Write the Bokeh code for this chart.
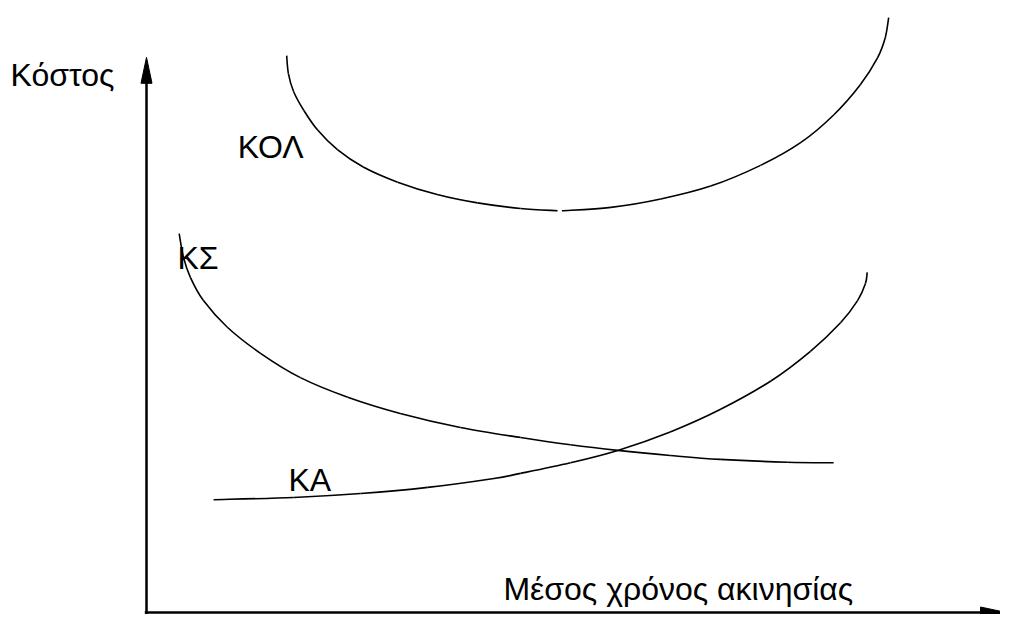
from bokeh.plotting import figure
from bokeh.models import Range1d, ColumnDataSource
from bokeh.core.properties import value
from bokeh.embed import file_html
from bokeh.resources import INLINE

# ---- data (x: average downtime units, y: cost units) ----
kol_left_x = [1.63, 1.65, 1.71, 1.83, 1.99, 2.22, 2.52, 2.92, 3.38, 3.85, 4.35, 4.78]
kol_left_y = [10.23, 9.91, 9.59, 9.25, 8.90, 8.55, 8.24, 7.97, 7.75, 7.60, 7.50, 7.46]
kol_right_x = [4.83, 5.40, 5.98, 6.56, 7.14, 7.61, 7.99, 8.30, 8.50, 8.59, 8.63]
kol_right_y = [7.46, 7.52, 7.67, 7.90, 8.27, 8.68, 9.17, 9.71, 10.19, 10.55, 10.91]

ks_x = [0.38, 0.43, 0.51, 0.66, 0.94, 1.33, 1.79, 2.34, 2.95, 3.65, 4.35, 4.93, 5.48, 6.09, 6.67, 7.45, 7.99]
ks_y = [7.05, 6.63, 6.27, 5.86, 5.38, 4.91, 4.48, 4.13, 3.84, 3.59, 3.41, 3.28, 3.18, 3.09, 3.02, 2.97, 2.96]

ka_x = [0.78, 1.71, 2.49, 3.27, 4.04, 4.35, 4.93, 5.48, 6.09, 6.67, 7.26, 7.72, 8.07, 8.27, 8.36, 8.38]
ka_y = [2.30, 2.34, 2.41, 2.52, 2.68, 2.77, 2.96, 3.18, 3.51, 3.91, 4.42, 4.95, 5.46, 5.86, 6.16, 6.36]

labels = ["Κόστος", "ΚΟΛ", "ΚΣ", "ΚΑ", "Μέσος χρόνος ακινησίας"]
label_x = [-1.58, 1.06, 0.36, 1.65, 4.15]
label_y = [9.89, 8.59, 6.61, 2.66, 0.71]

# ---- layout / scale ----
PX_X = 86.0   # pixels per x unit
PX_Y = 56.0   # pixels per y unit
W, H = 1000, 614
X0 = -146 / PX_X
Y1 = 628 / PX_Y
x_range = Range1d(X0, X0 + W / PX_X)
y_range = Range1d(Y1 - H / PX_Y, Y1)
Y0 = Y1 - H / PX_Y

p = figure(width=W, height=H, x_range=x_range, y_range=y_range,
           output_backend="svg", toolbar_location=None,
           x_axis_type=None, y_axis_type=None,
           min_border=0, min_border_left=0, min_border_right=0,
           min_border_top=0, min_border_bottom=0)
p.grid.visible = False
p.outline_line_color = None
p.background_fill_color = "white"
p.border_fill_color = "white"

# axes with arrow heads
y_tip = 10.20
x_tip = (1006 - 146) / PX_X
axis_y = Y0 + 2.0 / PX_Y
head_len_y = 26 / PX_Y
head_half_w_x = 5.5 / PX_X
head_len_x = 26 / PX_X
head_half_w_y = 5.5 / PX_Y

p.line([0, 0], [Y0, y_tip - head_len_y + 0.05], line_color="black", line_width=2.5)
p.patch([0, -head_half_w_x, head_half_w_x], [y_tip, y_tip - head_len_y, y_tip - head_len_y],
        fill_color="black", line_color="black", line_width=1)
p.line([-0.02, x_tip - head_len_x + 0.05], [axis_y, axis_y], line_color="black", line_width=2.5)
p.patch([x_tip, x_tip - head_len_x, x_tip - head_len_x],
        [axis_y, axis_y + head_half_w_y, axis_y - head_half_w_y],
        fill_color="black", line_color="black", line_width=1)


def smooth(xs, ys):
    """Catmull-Rom segments through the read points, drawn as cubic Beziers."""
    n = len(xs)
    px = [xs[0]] + list(xs) + [xs[-1]]
    py = [ys[0]] + list(ys) + [ys[-1]]
    d = dict(x0=[], y0=[], x1=[], y1=[], cx0=[], cy0=[], cx1=[], cy1=[])
    for i in range(1, n):
        a, b, c, e = i - 1, i, i + 1, i + 2
        d["x0"].append(px[b]); d["y0"].append(py[b])
        d["x1"].append(px[c]); d["y1"].append(py[c])
        d["cx0"].append(px[b] + (px[c] - px[a]) / 6); d["cy0"].append(py[b] + (py[c] - py[a]) / 6)
        d["cx1"].append(px[c] - (px[e] - px[b]) / 6); d["cy1"].append(py[c] - (py[e] - py[b]) / 6)
    return ColumnDataSource(d)


for xs, ys in [(kol_left_x, kol_left_y), (kol_right_x, kol_right_y), (ks_x, ks_y), (ka_x, ka_y)]:
    p.bezier(x0="x0", y0="y0", x1="x1", y1="y1", cx0="cx0", cy0="cy0", cx1="cx1", cy1="cy1",
             source=smooth(xs, ys), line_color="black", line_width=1.6)

src = ColumnDataSource(dict(x=label_x, y=label_y, t=labels))
p.text(x="x", y="y", text="t", source=src, text_font=value("Liberation Sans"),
       text_font_size="32px", text_color="black", text_align="left",
       text_baseline="alphabetic")

open("out.html", "w").write(file_html(p, INLINE))
